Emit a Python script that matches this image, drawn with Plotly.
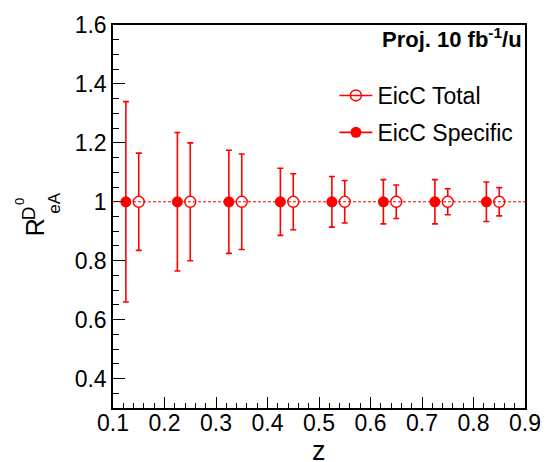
import plotly.graph_objects as go

# ---- data ----
z_specific = [0.125, 0.225, 0.325, 0.425, 0.525, 0.625, 0.725, 0.825]
r_specific = [1.0, 1.0, 1.0, 1.0, 1.0, 1.0, 1.0, 1.0]
err_specific = [0.34, 0.235, 0.175, 0.114, 0.086, 0.075, 0.075, 0.067]

z_total = [0.15, 0.25, 0.35, 0.45, 0.55, 0.65, 0.75, 0.85]
r_total = [1.0, 1.0, 1.0, 1.0, 1.0, 1.0, 1.0, 1.0]
err_total = [0.165, 0.2, 0.162, 0.095, 0.072, 0.057, 0.044, 0.048]

x_tickvals = [0.1, 0.2, 0.3, 0.4, 0.5, 0.6, 0.7, 0.8, 0.9]
x_ticktext = ["0.1", "0.2", "0.3", "0.4", "0.5", "0.6", "0.7", "0.8", "0.9"]
y_tickvals = [0.4, 0.6, 0.8, 1.0, 1.2, 1.4, 1.6]
y_ticktext = ["0.4", "0.6", "0.8", "1", "1.2", "1.4", "1.6"]
ref_level = 1.0

RED = "#ff0000"
FONT = "Liberation Sans, Arial, Helvetica, sans-serif"

W, H = 553, 462
L, R, T, B = 113, 25, 17, 54
PW, PH = W - L - R, H - T - B


def px_to_paper(px, py):
    return (px - L) / PW, 1 - (py - T) / PH


fig = go.Figure()

fig.add_trace(go.Scatter(
    x=z_specific, y=r_specific, mode="markers", showlegend=False,
    marker=dict(symbol="circle", size=11, color=RED, line=dict(width=0)),
    error_y=dict(type="data", array=err_specific, color=RED, thickness=1.6, width=3),
))
fig.add_trace(go.Scatter(
    x=z_total, y=r_total, mode="markers", showlegend=False,
    marker=dict(symbol="circle", size=11, color="white", line=dict(width=1.4, color=RED)),
    error_y=dict(type="data", array=err_total, color=RED, thickness=1.6, width=3),
))

# legend entries
fig.add_trace(go.Scatter(
    x=[None], y=[None], mode="lines+markers", name="EicC Total", legendgroup="a",
    line=dict(color=RED, width=1.6),
    marker=dict(symbol="circle-open", size=11, color=RED, line=dict(width=1.4)),
))
fig.add_trace(go.Scatter(
    x=[None], y=[None], mode="lines+markers", name="EicC Specific", legendgroup="b",
    line=dict(color=RED, width=1.6),
    marker=dict(symbol="circle", size=11, color=RED),
))

fig.add_shape(type="line", xref="x", yref="y", x0=x_tickvals[0], x1=x_tickvals[-1],
              y0=ref_level, y1=ref_level, layer="above",
              line=dict(color=RED, width=1, dash="3px,2px"))

axis_common = dict(
    showgrid=False, zeroline=False, showline=True, mirror=True,
    linecolor="black", linewidth=1.5, ticks="inside", tickcolor="black",
    tickwidth=1, tickfont=dict(family=FONT, size=23, color="black"),
)

fig.update_xaxes(
    range=[0.1, 0.9], tickvals=x_tickvals, ticktext=x_ticktext, ticklen=11,
    ticklabelstandoff=-6,
    minor=dict(dtick=0.02, tick0=0.1, ticklen=5, ticks="inside", tickcolor="black", tickwidth=1),
    **axis_common,
)
fig.update_yaxes(
    range=[0.3, 1.6], tickvals=y_tickvals, ticktext=y_ticktext, ticklen=12,
    minor=dict(dtick=0.05, tick0=0.3, ticklen=6, ticks="inside", tickcolor="black", tickwidth=1),
    **axis_common,
)

ann = []
# x title
x0, y0 = px_to_paper(320, 469)
ann.append(dict(text="z", x=x0, y=y0, xref="paper", yref="paper", showarrow=False,
                xanchor="center", yanchor="bottom", font=dict(family=FONT, size=27, color="black")))
# y title pieces (rotated)
for txt, (px, py), size in [("R", (34, 224), 25), ("eA", (54, 199), 17),
                             ("D", (28, 209.5), 19), ("0", (19, 197), 13)]:
    xp, yp = px_to_paper(px, py)
    ann.append(dict(text=txt, x=xp, y=yp, xref="paper", yref="paper", showarrow=False,
                    textangle=-90, xanchor="center", yanchor="middle",
                    font=dict(family=FONT, size=size, color="black")))
# projection label
xp, yp = px_to_paper(527, 30)
ann.append(dict(text="<b>Proj. 10 fb<sup>-1</sup>/u</b>", x=xp, y=yp, xref="paper", yref="paper",
                showarrow=False, xanchor="right", yanchor="middle",
                font=dict(family=FONT, size=22, color="black")))

lx, ly = px_to_paper(336, 67)
fig.update_layout(
    width=W, height=H, margin=dict(l=L, r=R, t=T, b=B),
    paper_bgcolor="white", plot_bgcolor="white",
    annotations=ann,
    legend=dict(x=lx, y=ly, xanchor="left", yanchor="top", bgcolor="rgba(0,0,0,0)",
                font=dict(family=FONT, size=23, color="black"), tracegroupgap=4,
                itemwidth=33),
)

fig.write_html("out.html", config={"displayModeBar": False},
               post_script="document.body.style.margin='0';document.body.style.overflow='hidden';")
